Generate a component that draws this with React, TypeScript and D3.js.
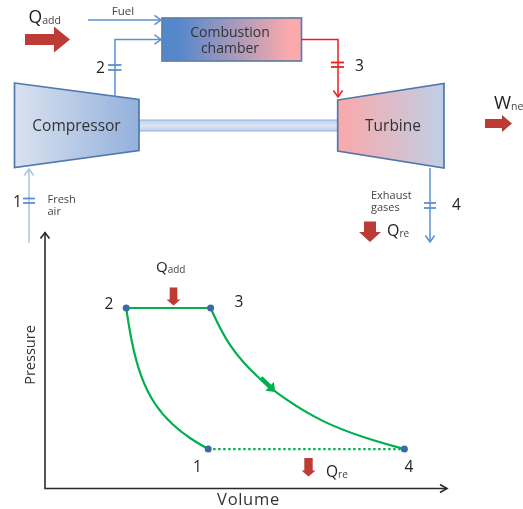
import React from "react";
import * as d3 from "d3";

// P-V diagram values (percent of axis range)
const pvScaleVolume = [0, 100];
const pvScalePressure = [0, 100];
const state1 = { v: 40.6, p: 15.4, label: "1" };
const state2 = { v: 20.2, p: 70.5, label: "2" };
const state3 = { v: 41.2, p: 70.5, label: "3" };
const state4 = { v: 89.4, p: 15.4, label: "4" };
const compressionCurve = [
  [20.2, 70.5], [21.4, 58], [23.6, 44], [27.2, 32.5], [31.8, 24.6], [36, 19.6], [40.6, 15.4],
];
const expansionCurve = [
  [41.2, 70.5], [45.6, 55.5], [53, 43], [60, 34.5], [68.9, 26], [78.9, 20], [89.4, 15.4],
];
const directionArrow = { from: [53.7, 43.2], to: [57.3, 37.7] };

// Schematic outlines (in picture units)
const compressorShape = [[14.5, 83], [139, 99.5], [139, 150.5], [14.5, 167.5]];
const turbineShape = [[337.7, 100], [444, 83.5], [444, 168], [337.7, 151]];
const fuelLine = [[88, 20], [161, 20]];
const airLine = [[115, 97], [115, 39.5], [161, 39.5]];
const inletLine = [[29, 243], [29, 169]];
const hotLine = [[301, 39.5], [338, 39.5], [338, 97]];
const exhaustLine = [[430, 168], [430, 242]];

const W = 523, H = 509;
const FONT = "'Open Sans', sans-serif";
const x = d3.scaleLinear().domain(pvScaleVolume).range([45, 447]);
const y = d3.scaleLinear().domain(pvScalePressure).range([488.5, 232.5]);
const pvLine = d3.line<number[]>().x(d => x(d[0])).y(d => y(d[1])).curve(d3.curveBasis);
const rawLine = d3.line<number[]>().x(d => d[0]).y(d => d[1]);
const poly = (pts: number[][]) => rawLine(pts) + "Z";

function Pipe({ pts, color, width = 1.5 }: { pts: number[][]; color: string; width?: number }) {
  const n = pts.length;
  const [a, b] = [pts[n - 2], pts[n - 1]];
  const ang = Math.atan2(b[1] - a[1], b[0] - a[0]);
  const L = 8, S = 0.62;
  const head = [
    [b[0] - L * Math.cos(ang - S), b[1] - L * Math.sin(ang - S)],
    b,
    [b[0] - L * Math.cos(ang + S), b[1] - L * Math.sin(ang + S)],
  ];
  return (
    <g fill="none" stroke={color} strokeWidth={width}>
      <path d={rawLine(pts)!} />
      <path d={rawLine(head)!} />
    </g>
  );
}

function Ticks({ x0, x1, ys, color }: { x0: number; x1: number; ys: number[]; color: string }) {
  return <g stroke={color} strokeWidth={1.8}>{ys.map(v => <line key={v} x1={x0} x2={x1} y1={v} y2={v} />)}</g>;
}

// block arrow, given tail, tip, half-widths and head length
function Block({ tail, tip, hw, hh, hl, fill = "#bd3a35" }: { tail: number[]; tip: number[]; hw: number; hh: number; hl: number; fill?: string }) {
  const ang = Math.atan2(tip[1] - tail[1], tip[0] - tail[0]);
  const c = Math.cos(ang), s = Math.sin(ang);
  const len = Math.hypot(tip[0] - tail[0], tip[1] - tail[1]);
  const P = (u: number, v: number) => [tail[0] + u * c - v * s, tail[1] + u * s + v * c];
  const pts = [P(0, -hw), P(len - hl, -hw), P(len - hl, -hh), P(len, 0), P(len - hl, hh), P(len - hl, hw), P(0, hw)];
  return <path d={poly(pts)} fill={fill} />;
}

function Sub({ px, py, main, sub, size = 17, subSize = 10, dy = 1 }: { px: number; py: number; main: string; sub: string; size?: number; subSize?: number; dy?: number }) {
  return (
    <text x={px} y={py} fontFamily={FONT} fontSize={size} fill="#222">
      {main}<tspan fontSize={subSize} fill="#444" dy={dy}>{sub}</tspan>
    </text>
  );
}

const Label = ({ px, py, t, size = 15.5, anchor = "start", fill = "#222" }: { px: number; py: number; t: string; size?: number; anchor?: string; fill?: string }) => (
  <text x={px} y={py} fontFamily={FONT} fontSize={size} textAnchor={anchor as any} fill={fill}>{t}</text>
);

const TwoLines = ({ px, py, a, b, gap, size, anchor = "start", fill }: { px: number; py: number; a: string; b: string; gap: number; size: number; anchor?: string; fill: string }) => (
  <text x={px} y={py} fontFamily={FONT} fontSize={size} textAnchor={anchor as any} fill={fill}>
    <tspan x={px}>{a}</tspan>
    <tspan x={px} dy={gap}>{b}</tspan>
  </text>
);

export default function App() {
  return (
    <svg width={W} height={H} viewBox={`0 0 ${W} ${H}`} style={{ position: "absolute", left: 0, top: 0, background: "#fff" }}>
      <defs>
        <linearGradient id="comp" x1="0" x2="1" y1="0" y2="0">
          <stop offset="0" stopColor="#d9e2f0" /><stop offset="1" stopColor="#94b0dc" />
        </linearGradient>
        <linearGradient id="turb" x1="0" x2="1" y1="0" y2="0">
          <stop offset="0" stopColor="#fba8aa" /><stop offset="1" stopColor="#bfcfe6" />
        </linearGradient>
        <linearGradient id="comb" x1="0" x2="1" y1="0" y2="0">
          <stop offset="0.12" stopColor="#5588cb" /><stop offset="0.92" stopColor="#fbaaac" />
        </linearGradient>
        <linearGradient id="shaft" x1="0" x2="0" y1="0" y2="1">
          <stop offset="0" stopColor="#bcd0ec" /><stop offset="0.5" stopColor="#dbe6f4" /><stop offset="1" stopColor="#bcd0ec" />
        </linearGradient>
        <filter id="soft" x="-2%" y="-2%" width="104%" height="104%">
          <feGaussianBlur stdDeviation="0.45" />
        </filter>
      </defs>
      <g filter="url(#soft)">
        {/* shaft */}
        <rect x={139} y={120} width={199} height={11} fill="url(#shaft)" stroke="#8fb4e3" strokeWidth={1} />
        {/* components */}
        <path d={poly(compressorShape)} fill="url(#comp)" stroke="#4f78ad" strokeWidth={1.7} />
        <path d={poly(turbineShape)} fill="url(#turb)" stroke="#4f78ad" strokeWidth={1.7} />
        <rect x={162} y={18} width={139.5} height={43} fill="url(#comb)" stroke="#5d7fae" strokeWidth={1.7} />

        {/* pipes */}
        <Pipe pts={fuelLine} color="#5b8fd0" />
        <Pipe pts={airLine} color="#5b8fd0" />
        <Pipe pts={inletLine} color="#a9c3e6" />
        <Pipe pts={hotLine} color="#f01c1c" />
        <Pipe pts={exhaustLine} color="#5b8fd0" />
        <Ticks x0={108} x1={121.5} ys={[65, 70]} color="#5b8fd0" />
        <Ticks x0={23} x1={35} ys={[198.5, 203]} color="#5b8fd0" />
        <Ticks x0={331} x1={344} ys={[62.5, 67]} color="#f01c1c" />
        <Ticks x0={424} x1={436} ys={[203, 208]} color="#5b8fd0" />

        {/* block arrows */}
        <Block tail={[25, 39.5]} tip={[70, 39.5]} hw={5.5} hh={13} hl={16} />
        <Block tail={[485, 123.5]} tip={[512, 123.5]} hw={4.5} hh={8.5} hl={10} />
        <Block tail={[370, 221.5]} tip={[370, 242]} hw={6} hh={11} hl={10} />
        <Block tail={[173.5, 287.5]} tip={[173.5, 305.5]} hw={3.8} hh={7} hl={6} />
        <Block tail={[308.5, 458]} tip={[308.5, 476.5]} hw={4.2} hh={7} hl={6} />

        {/* schematic text */}
        <Sub px={28.5} py={23} main="Q" sub="add" size={17.5} subSize={10.5} />
        <Label px={123} py={15} t="Fuel" size={11.5} anchor="middle" fill="#444" />
        <TwoLines px={230} py={36.5} a="Combustion" b="chamber" gap={16} size={14} anchor="middle" fill="#333" />
        <Label px={76.5} py={131} t="Compressor" size={15.5} anchor="middle" fill="#333" />
        <Label px={393} py={131} t="Turbine" size={15.5} anchor="middle" fill="#333" />
        <Label px={96} py={73} t="2" />
        <Label px={13} py={207} t="1" />
        <Label px={355} py={71} t="3" />
        <Label px={452} py={210} t="4" />
        <TwoLines px={47.5} py={203} a="Fresh" b="air" gap={12} size={11} fill="#444" />
        <TwoLines px={371} py={199} a="Exhaust" b="gases" gap={12} size={11} fill="#444" />
        <Sub px={387} py={236} main="Q" sub="re" size={16} subSize={10} />
        <Sub px={494} py={109} main="W" sub="ne" size={18.5} subSize={10.5} />

        {/* P-V axes */}
        <g fill="none" stroke="#2a2a2a" strokeWidth={1.6}>
          <path d={rawLine([[x(0), y(100)], [x(0), y(0)], [x(100), y(0)]])!} />
          <path d={rawLine([[x(0) - 4.5, y(100) + 6], [x(0), y(100)], [x(0) + 4.5, y(100) + 6]])!} />
          <path d={rawLine([[x(100) - 7, y(0) - 4], [x(100), y(0)], [x(100) - 7, y(0) + 4]])!} />
        </g>

        {/* cycle */}
        <g fill="none" stroke="#00b050" strokeWidth={2.2}>
          <path d={pvLine(compressionCurve)!} />
          <path d={pvLine(expansionCurve)!} />
          <line x1={x(state2.v)} x2={x(state3.v)} y1={y(state2.p)} y2={y(state3.p)} />
          <line x1={x(state1.v)} x2={x(state4.v)} y1={y(state1.p)} y2={y(state4.p)} strokeDasharray="2.4 2.6" strokeWidth={2.2} />
        </g>
        <Block
          tail={[x(directionArrow.from[0]), y(directionArrow.from[1])]}
          tip={[x(directionArrow.to[0]), y(directionArrow.to[1])]}
          hw={2.2} hh={6} hl={8} fill="#00b050"
        />
        {[state1, state2, state3, state4].map(s => (
          <circle key={s.label} cx={x(s.v)} cy={y(s.p)} r={3.5} fill="#3b69a8" />
        ))}

        {/* P-V text */}
        <Sub px={156} py={272} main="Q" sub="add" size={15} subSize={10} />
        <Label px={104.5} py={309} t="2" />
        <Label px={234.5} py={307} t="3" />
        <Label px={193} py={472} t="1" />
        <Label px={404.5} py={472} t="4" />
        <Sub px={326} py={477} main="Q" sub="re" size={15.5} subSize={10} />
        <text transform="translate(35,355) rotate(-90)" fontFamily={FONT} fontSize={14.5} textAnchor="middle" fill="#333">Pressure</text>
        <text x={248.5} y={505} fontFamily={FONT} fontSize={16.5} letterSpacing={0.7} textAnchor="middle" fill="#333">Volume</text>
      </g>
    </svg>
  );
}
